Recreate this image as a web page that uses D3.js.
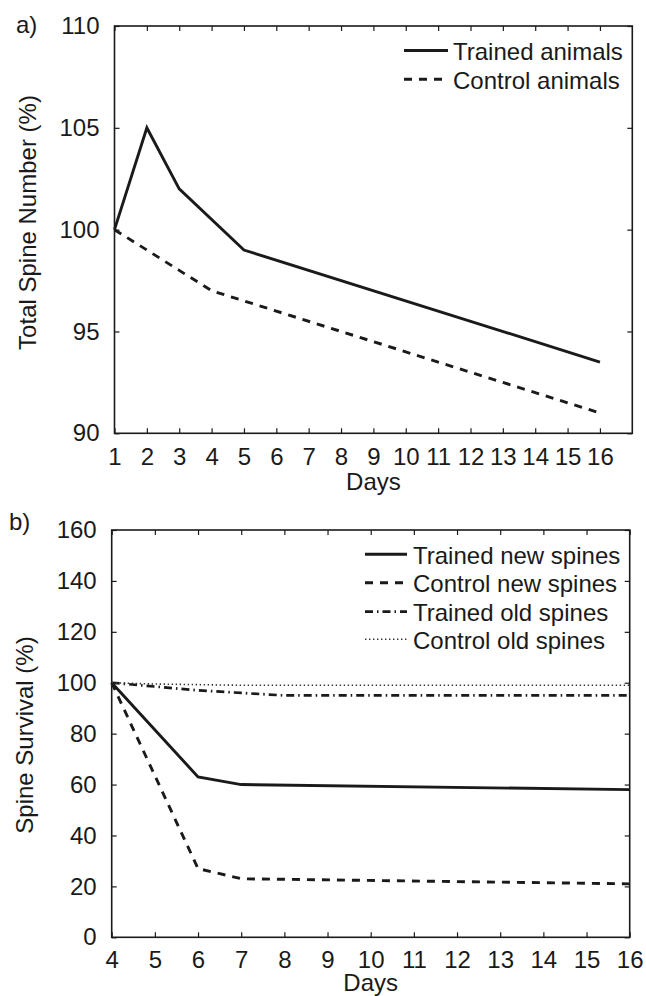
<!DOCTYPE html>
<html><head><meta charset="utf-8">
<script src="https://cdn.jsdelivr.net/npm/d3@7"></script>
<style>
html,body{margin:0;padding:0;background:#fff;}
text{font-family:"Liberation Sans",Arial,Helvetica,sans-serif;fill:#1a1a1a;}
</style></head>
<body>
<script>
// ---- Panel a data ----
const daysA = d3.range(1, 17);
const trainedADays = [1, 2, 3, 5, 16];
const trainedAValues = [100, 105, 102, 99, 93.5];
const controlADays = [1, 2, 3, 4, 5, 16];
const controlAValues = [100, 99, 98, 97, 96.5, 91];
const yTicksA = [90, 95, 100, 105, 110];
const legendA = ["Trained animals", "Control animals"];

// ---- Panel b data ----
const daysB = d3.range(4, 17);
const trainedNewDays = [4, 6, 7, 16];
const trainedNewValues = [100, 63, 60, 58];
const controlNewDays = [4, 6, 7, 16];
const controlNewValues = [100, 27, 23, 21];
const trainedOldDays = [4, 5, 6, 7, 8, 16];
const trainedOldValues = [100, 98.5, 97, 96, 95, 95];
const controlOldDays = [4, 5, 7, 16];
const controlOldValues = [100, 99.5, 99, 99];
const yTicksB = [0, 20, 40, 60, 80, 100, 120, 140, 160];
const legendB = ["Trained new spines", "Control new spines", "Trained old spines", "Control old spines"];

const W = 646, H = 996, FS = 24, INK = "#1a1a1a";
const svg = d3.select("body").append("svg").attr("width", W).attr("height", H);

function zip(xs, ys){ return xs.map((x,i)=>[x, ys[i]]); }

function panel(opt){
  const x = d3.scaleLinear().domain(opt.xDomain).range(opt.xRange);
  const y = d3.scaleLinear().domain(opt.yDomain).range(opt.yRange);
  const g = svg.append("g");
  const [x0,x1] = opt.xRange, [y0,y1] = opt.yRange; // y0 bottom, y1 top
  const style = sel => {
    sel.select(".domain").remove();
    sel.selectAll(".tick line").attr("stroke", INK).attr("stroke-width", 1.2);
    sel.selectAll("text").attr("font-size", FS).attr("fill", INK).style("font-family", '"Liberation Sans",Arial,sans-serif');
  };
  g.append("g").attr("transform", `translate(0,${y0})`)
    .call(d3.axisBottom(x).tickValues(opt.xTicks).tickFormat(d3.format("d")).tickSize(-5).tickSizeOuter(0).tickPadding(opt.xPad))
    .call(style);
  g.append("g").attr("transform", `translate(0,${y1})`)
    .call(d3.axisTop(x).tickValues(opt.xTicks).tickFormat("").tickSize(-5).tickSizeOuter(0))
    .call(style);
  g.append("g").attr("transform", `translate(${x0},0)`)
    .call(d3.axisLeft(y).tickValues(opt.yTicks).tickFormat(d3.format("d")).tickSize(-5).tickSizeOuter(0).tickPadding(15))
    .call(style);
  g.append("g").attr("transform", `translate(${x1},0)`)
    .call(d3.axisRight(y).tickValues(opt.yTicks).tickFormat("").tickSize(-5).tickSizeOuter(0))
    .call(style);
  g.append("rect").attr("x", x0).attr("y", y1).attr("width", x1-x0).attr("height", y0-y1)
    .attr("fill", "none").attr("stroke", INK).attr("stroke-width", 1.6);

  const line = d3.line().x(d=>x(d[0])).y(d=>y(d[1]));
  opt.series.forEach(s => {
    g.append("path").datum(zip(s.days, s.values)).attr("d", line)
      .attr("fill","none").attr("stroke", s.color || INK).attr("stroke-width", s.w)
      .attr("stroke-dasharray", s.dash || null).attr("stroke-linejoin","miter");
  });
  // legend
  opt.series.forEach((s,i) => {
    const ly = opt.legY[i];
    g.append("line").attr("x1", opt.legX[0]).attr("x2", opt.legX[1]).attr("y1", ly).attr("y2", ly)
      .attr("stroke", s.color || INK).attr("stroke-width", s.w).attr("stroke-dasharray", s.dash || null);
    g.append("text").attr("x", opt.legX[2]).attr("y", ly + 9.5).attr("font-size", FS).text(opt.legend[i]);
  });
  // titles
  g.append("text").attr("x", (x0+x1)/2).attr("y", opt.xTitleY).attr("text-anchor","middle").attr("font-size", FS).text("Days");
  g.append("text").attr("transform", `translate(${opt.yTitleX},${opt.yTitleC}) rotate(-90)`)
    .attr("text-anchor","middle").attr("font-size", FS).text(opt.yTitle);
  g.append("text").attr("x", opt.tag[0]).attr("y", opt.tag[1]).attr("font-size", FS).text(opt.tagText);
}

panel({
  xDomain:[1,17], xRange:[114.5,632.3], yDomain:[90,110], yRange:[433.3,26],
  xTicks: daysA, yTicks: yTicksA, xPad: 15,
  series:[
    {days: trainedADays, values: trainedAValues, w: 2.9},
    {days: controlADays, values: controlAValues, w: 2.9, dash: "8,7"}
  ],
  legend: legendA, legX:[404,448,453], legY:[50.5,79.3],
  xTitleY: 490, yTitleX: 36, yTitleC: 222.5, yTitle: "Total Spine Number (%)",
  tag:[16,33], tagText:"a)"
});

panel({
  xDomain:[4,16], xRange:[111.7,629.7], yDomain:[0,160], yRange:[937.3,530],
  xTicks: daysB, yTicks: yTicksB, xPad: 14,
  series:[
    {days: trainedNewDays, values: trainedNewValues, w: 2.9},
    {days: controlNewDays, values: controlNewValues, w: 2.9, dash: "8,7"},
    {days: trainedOldDays, values: trainedOldValues, w: 2.7, dash: "8,4,1.5,4"},
    {days: controlOldDays, values: controlOldValues, w: 1.6, dash: "1.4,2.6", color:"#333"}
  ],
  legend: legendB, legX:[365,407,413], legY:[554.3,582.7,611.7,639.3],
  xTitleY: 990.5, yTitleX: 33, yTitleC: 735, yTitle: "Spine Survival (%)",
  tag:[9,530], tagText:"b)"
});
</script>
</body></html>
